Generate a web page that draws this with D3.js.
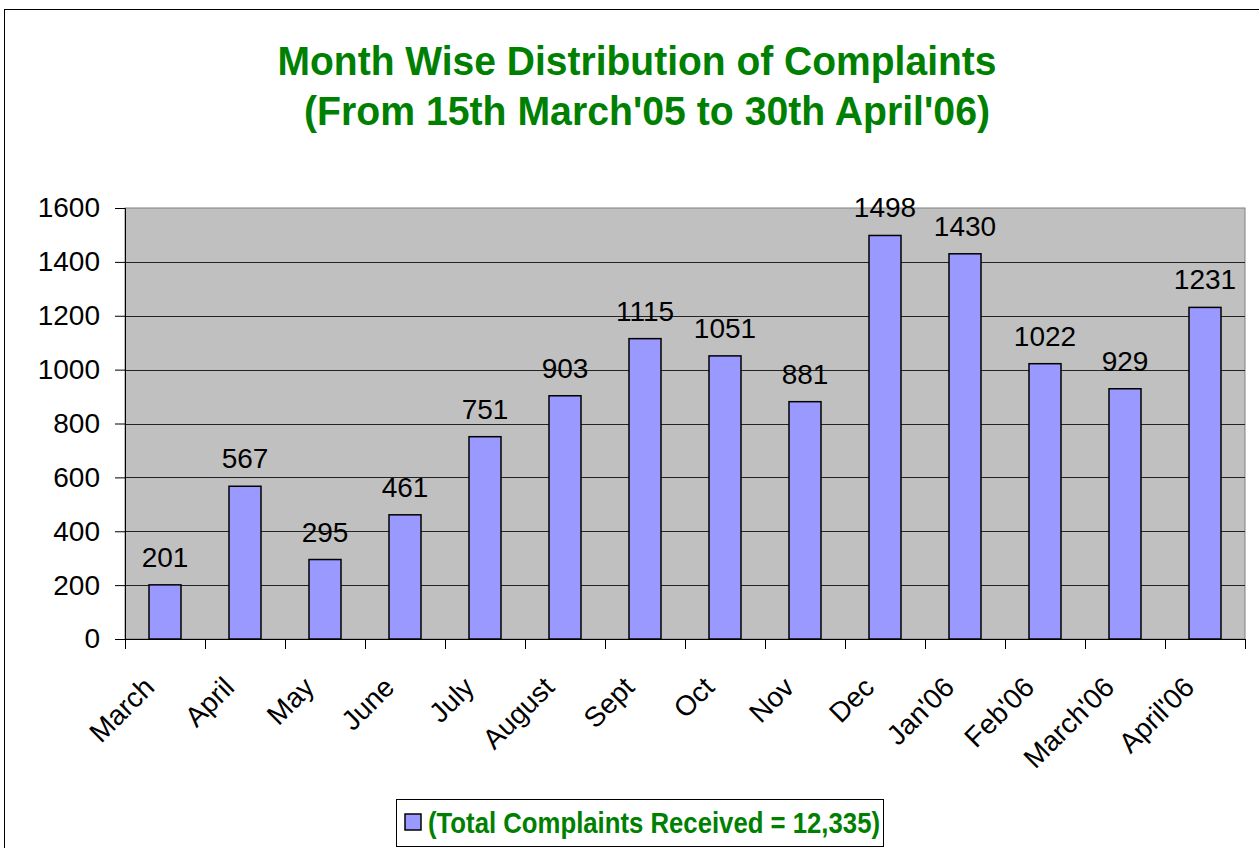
<!DOCTYPE html>
<html>
<head>
<meta charset="utf-8">
<script src="https://cdn.jsdelivr.net/npm/d3@7"></script>
<style>
  body { margin: 0; background: #fff; }
  svg { display: block; font-family: "Liberation Sans", Arial, sans-serif; }
</style>
</head>
<body>
<script>
const width = 1259
const height = 848

const months = ["March", "April", "May", "June", "July", "August", "Sept", "Oct", "Nov", "Dec", "Jan'06", "Feb'06", "March'06", "April'06"]
const complaints = [201, 567, 295, 461, 751, 903, 1115, 1051, 881, 1498, 1430, 1022, 929, 1231]
const yTicks = [0, 200, 400, 600, 800, 1000, 1200, 1400, 1600]
const titleLines = ["Month Wise Distribution of Complaints", "(From 15th March'05 to 30th April'06)"]
const legendLabel = "(Total Complaints Received = 12,335)"

const green = "#008000"
const plot = { left: 125, top: 208, right: 1245, bottom: 639 }

const svg = d3.select("body").append("svg")
    .attr("width", width)
    .attr("height", height)

// outer frame
svg.append("rect")
    .attr("x", 4.5).attr("y", 9.5)
    .attr("width", width).attr("height", height)
    .attr("fill", "none").attr("stroke", "#000")

// title
svg.append("text")
    .attr("x", 637).attr("y", 75)
    .attr("text-anchor", "middle")
    .attr("fill", green).attr("font-weight", "bold").attr("font-size", 41)
    .attr("textLength", 719).attr("lengthAdjust", "spacingAndGlyphs")
    .text(titleLines[0])
svg.append("text")
    .attr("x", 647).attr("y", 125)
    .attr("text-anchor", "middle")
    .attr("fill", green).attr("font-weight", "bold").attr("font-size", 41)
    .attr("textLength", 686).attr("lengthAdjust", "spacingAndGlyphs")
    .text(titleLines[1])

const x = d3.scaleBand()
    .domain(months)
    .range([plot.left, plot.right])
    .padding(0)

const y = d3.scaleLinear()
    .domain([0, 1600])
    .range([plot.bottom, plot.top])

// plot background
svg.append("rect")
    .attr("x", plot.left).attr("y", plot.top)
    .attr("width", plot.right - plot.left).attr("height", plot.bottom - plot.top)
    .attr("fill", "#c0c0c0")
    .attr("stroke", "#808080")

// gridlines
svg.append("g")
    .selectAll("line")
    .data(yTicks.filter((d) => d > 0 && d < 1600))
    .join("line")
    .attr("x1", plot.left).attr("x2", plot.right)
    .attr("y1", (d) => Math.round(y(d)) + 0.5).attr("y2", (d) => Math.round(y(d)) + 0.5)
    .attr("stroke", "#222")

// bars
const barW = x.bandwidth() * 0.4
svg.append("g")
    .selectAll("rect")
    .data(complaints)
    .join("rect")
    .attr("x", (d, i) => x(months[i]) + (x.bandwidth() - barW) / 2)
    .attr("y", (d) => y(d))
    .attr("width", barW)
    .attr("height", (d) => y(0) - y(d))
    .attr("fill", "#9999ff")
    .attr("stroke", "#000")
    .attr("stroke-width", 1.5)

// value labels
svg.append("g")
    .selectAll("text")
    .data(complaints)
    .join("text")
    .attr("x", (d, i) => x(months[i]) + x.bandwidth() / 2)
    .attr("y", (d) => y(d) - 18)
    .attr("text-anchor", "middle")
    .attr("font-size", 28)
    .attr("fill", "#000")
    .text((d) => d)

// y axis
const yAxis = svg.append("g")
    .attr("transform", `translate(${plot.left},0)`)
    .call(d3.axisLeft(y).tickValues(yTicks).tickSize(10).tickPadding(15).tickFormat(d3.format("d")))
yAxis.select(".domain").attr("stroke", "#000")
yAxis.selectAll("text").attr("font-size", 28).attr("fill", "#000").attr("font-family", null)

// x axis: ticks at category boundaries
const xAxis = svg.append("g")
xAxis.append("line")
    .attr("x1", plot.left).attr("x2", plot.right)
    .attr("y1", plot.bottom + 0.5).attr("y2", plot.bottom + 0.5)
    .attr("stroke", "#000")
xAxis.selectAll("line.tick")
    .data(months.map((m) => x(m)).concat([plot.right]))
    .join("line")
    .attr("class", "tick")
    .attr("x1", (d) => d + 0.5).attr("x2", (d) => d + 0.5)
    .attr("y1", plot.bottom).attr("y2", plot.bottom + 10)
    .attr("stroke", "#000")
xAxis.selectAll("text")
    .data(months)
    .join("text")
    .attr("transform", (d) => `translate(${x(d) + x.bandwidth() / 2 - 9},${plot.bottom + 50}) rotate(-45)`)
    .attr("text-anchor", "end")
    .attr("font-size", 28)
    .attr("fill", "#000")
    .text((d) => d)

// legend
const legend = svg.append("g")
legend.append("rect")
    .attr("x", 396.5).attr("y", 799.5)
    .attr("width", 487).attr("height", 47)
    .attr("fill", "#fff").attr("stroke", "#000")
legend.append("rect")
    .attr("x", 405).attr("y", 814)
    .attr("width", 16).attr("height", 16)
    .attr("fill", "#9999ff").attr("stroke", "#000").attr("stroke-width", 1.5)
legend.append("text")
    .attr("x", 428).attr("y", 833)
    .attr("font-size", 30).attr("font-weight", "bold")
    .attr("fill", green)
    .attr("textLength", 452).attr("lengthAdjust", "spacingAndGlyphs")
    .text(legendLabel)
</script>
</body>
</html>
